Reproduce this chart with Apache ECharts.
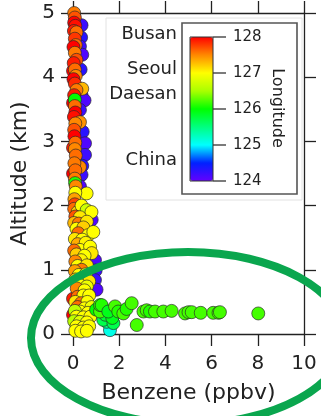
<!DOCTYPE html>
<html>
<head>
<meta charset="utf-8">
<script src="https://cdn.jsdelivr.net/npm/echarts@6/dist/echarts.min.js"></script>
<style>
  html, body { margin: 0; padding: 0; background: #fff; }
  #chart { width: 321px; height: 416px; }
</style>
</head>
<body>
<div id="chart"></div>
<script>
// Each point: [benzene (ppbv), altitude (km), longitude (deg E)]

// Air arriving from the west (low longitude)
const westernAir = [
  [0.37,4.81,124.2],[0.35,4.62,124.3],[0.30,4.48,124.2],[0.40,4.35,124.1],[0.33,4.12,124.3],
  [0.37,3.72,124.2],[0.50,3.64,124.1],[0.30,3.49,124.2],[0.42,3.15,124.3],[0.52,2.97,124.1],
  [0.52,2.79,124.2],[0.40,2.62,124.3],[0.37,2.48,124.2],[0.30,2.30,124.1],[0.81,1.78,124.1],
  [0.95,1.15,124.1],[0.98,0.99,124.2],[0.95,0.84,124.2],[1.02,0.69,124.1]
];

// Free troposphere column, 2-5 km
const upperColumn = [
  [0.00,4.10,128.0],[0.00,3.60,128.0],[0.00,2.90,127.9],[0.00,2.50,128.0],
  [0.05,5.00,127.55],[0.08,4.93,127.7],[0.05,4.85,128.0],[0.10,4.80,127.95],
  [0.04,4.72,127.9],[0.15,4.70,127.6],[0.08,4.60,127.8],[0.12,4.50,127.6],
  [0.02,4.47,128.0],[0.08,4.38,127.55],[0.15,4.27,127.7],[0.03,4.22,127.9],
  [0.08,4.12,127.6],[0.12,4.02,127.5],[0.02,3.97,128.0],[0.08,3.90,127.85],
  [0.40,3.82,127.3],[0.15,3.80,127.55],[0.05,3.72,127.9],[0.08,3.65,126.0],
  [0.08,3.55,127.6],[0.10,3.45,128.0],[0.04,3.38,127.95],[0.30,3.30,127.45],
  [0.10,3.28,127.5],[0.05,3.18,127.7],[0.06,3.08,128.0],[0.10,2.98,127.6],
  [0.08,2.88,127.5],[0.12,2.78,127.6],[0.30,2.60,127.5],[0.06,2.66,127.55],
  [0.10,2.55,127.6],[0.08,2.42,127.55],[0.09,2.35,126.1],[0.12,2.30,127.5],
  [0.59,2.19,127.0],[0.10,2.20,127.0],[0.06,2.10,127.4],[0.08,2.02,127.75]
];

// Boundary layer column, 0-2 km
const lowerColumn = [
  [0.00,0.30,128.0],[0.00,0.55,127.9],
  [0.05,1.95,127.6],[0.20,1.90,127.2],[0.37,2.00,127.0],[0.59,1.93,126.7],[0.80,1.90,127.0],
  [0.10,1.83,127.7],[0.30,1.82,127.1],
  [0.05,1.73,127.3],[0.25,1.72,127.55],[0.60,1.75,127.1],
  [0.15,1.64,127.0],[0.45,1.66,127.2],
  [0.23,1.57,127.6],[0.66,1.54,127.0],[0.88,1.59,127.0],
  [0.08,1.48,127.1],[0.40,1.47,127.0],
  [0.20,1.40,127.35],[0.55,1.42,127.05],
  [0.30,1.31,127.0],[0.74,1.36,127.0],[0.05,1.30,127.6],
  [0.15,1.24,127.2],[0.81,1.26,127.1],[0.50,1.22,127.0],
  [0.35,1.15,127.05],[0.10,1.13,127.5],
  [0.20,1.06,127.0],[0.60,1.07,127.1],
  [0.37,1.00,127.55],[0.08,0.98,127.4],
  [0.25,0.92,127.0],[0.55,0.93,127.0],
  [0.44,0.84,127.0],[0.10,0.85,127.3],[0.70,0.82,127.1],
  [0.30,0.76,127.0],[0.60,0.74,126.9],
  [0.23,0.66,127.0],[0.16,0.71,127.5],[0.50,0.68,127.0],
  [0.20,0.58,127.6],[0.45,0.60,127.0],[0.70,0.60,127.0],
  [0.10,0.50,127.1],[0.35,0.48,127.55],[0.62,0.50,127.0],
  [0.20,0.42,127.6],[0.50,0.40,127.0],[0.80,0.42,126.9],
  [0.30,0.35,127.0],[0.65,0.33,127.0],[0.08,0.36,126.6],
  [0.15,0.27,127.0],[0.45,0.26,127.0],[0.75,0.27,127.0],
  [0.05,0.20,126.6],[0.30,0.19,126.8],[0.60,0.18,127.0],
  [0.15,0.12,127.0],[0.45,0.10,127.0],[0.70,0.12,127.0],
  [0.10,0.05,127.0],[0.35,0.04,127.0],[0.60,0.05,127.0]
];

// Near-surface benzene plume
const plume = [
  [1.60,0.06,125.1],[1.46,0.19,125.5],[1.31,0.22,125.7],[1.75,0.17,125.7],
  [1.40,0.30,125.8],[1.70,0.25,125.9],
  [1.00,0.38,126.0],[1.17,0.35,126.2],[1.17,0.45,126.1],[1.24,0.45,126.1],
  [1.53,0.35,125.9],[1.82,0.43,126.2],[1.96,0.35,126.1],[2.18,0.32,126.2],
  [2.32,0.39,126.1],[2.54,0.48,126.2],[2.76,0.14,126.2],[3.05,0.35,126.2],
  [3.19,0.37,126.2],[3.33,0.35,126.1],[3.55,0.35,126.2],[3.91,0.35,126.2],
  [4.27,0.36,126.2],[4.85,0.32,126.2],[5.00,0.34,126.2],[5.14,0.34,126.2],
  [5.53,0.33,126.2],[6.07,0.33,126.2],[6.30,0.33,126.2],[6.36,0.34,126.2],
  [8.02,0.32,126.2]
];

// Colour scale and its annotations
const colorTicks = [124, 125, 126, 127, 128];
const rainbow = ['#6400ff','#0020ff','#00ffff','#00ff80','#00ff00','#aaff00','#ffff00','#ff8800','#ff0000'];
const cities = ['Busan', 'Seoul', 'Daesan', 'China'];
const cityLongitudes = [128.07, 127.1, 126.4, 124.57];

const FONT = 'DejaVu Sans';
const INK = '#222';
const LON_MIN = 124, LON_MAX = 128;
const bar = { x: 190, y: 37, w: 23, h: 144 };
const lonToY = v => bar.y + (LON_MAX - v) / (LON_MAX - LON_MIN) * bar.h;

const axisLine = { show: true, onZero: false, lineStyle: { color: INK, width: 1.3 } };
const axisTick = { show: true, inside: false, length: 12, lineStyle: { color: INK, width: 1.3 } };
const tickFont = { fontSize: 20, fontFamily: FONT, color: INK };
const nameFont = { fontSize: 22, fontFamily: FONT, color: INK };

function scatter(data) {
  return {
    type: 'scatter', data, symbolSize: 13, clip: false, silent: true,
    itemStyle: { borderColor: 'rgba(40,40,40,0.85)', borderWidth: 0.8, opacity: 1 }
  };
}

const graphics = [
  { type: 'rect', z: 1, shape: { x: 106, y: 18, width: 196, height: 182 },
    style: { fill: '#fff', stroke: '#e2e2e2', lineWidth: 1 } },
  { type: 'rect', z: 5, shape: { x: 182, y: 23, width: 115, height: 171 },
    style: { fill: 'none', stroke: '#555', lineWidth: 1.6 } },
  { type: 'rect', z: 6, shape: { x: bar.x, y: bar.y, width: bar.w, height: bar.h },
    style: { fill: 'none', stroke: '#333', lineWidth: 1 } },
  { type: 'text', z: 6, x: 277, y: 108, rotation: -Math.PI / 2,
    style: { text: 'Longitude', align: 'center', verticalAlign: 'middle',
             fontSize: 16, fontFamily: FONT, fill: INK } }
];
colorTicks.forEach(v => {
  const y = lonToY(v);
  graphics.push({ type: 'line', z: 6, shape: { x1: bar.x + bar.w, y1: y, x2: bar.x + bar.w + 13, y2: y },
    style: { stroke: '#333', lineWidth: 1.3 } });
  graphics.push({ type: 'text', z: 6, x: 233, y,
    style: { text: String(v), align: 'left', verticalAlign: 'middle', fontSize: 15, fontFamily: FONT, fill: INK } });
});
cities.forEach((c, i) => {
  graphics.push({ type: 'text', z: 6, x: 177, y: lonToY(cityLongitudes[i]),
    style: { text: c, align: 'right', verticalAlign: 'middle', fontSize: 18, fontFamily: FONT, fill: INK } });
});
// highlight ring around the low-altitude plume
graphics.push({ type: 'ellipse', z: 100, x: 188, y: 338,
  shape: { cx: 0, cy: 0, rx: 157, ry: 86 },
  style: { fill: 'none', stroke: '#0aa64e', lineWidth: 8 } });

const chart = echarts.init(document.getElementById('chart'), null, { renderer: 'canvas' });
chart.setOption({
  animation: false,
  backgroundColor: '#fff',
  grid: { left: 73, right: 17, top: 13, bottom: 82 },
  xAxis: [
    { type: 'value', position: 'bottom', min: 0, max: 10, interval: 2,
      axisLine, axisTick, splitLine: { show: false },
      axisLabel: Object.assign({ margin: 20 }, tickFont),
      name: 'Benzene (ppbv)', nameLocation: 'middle', nameGap: 48, nameTextStyle: nameFont },
    { type: 'value', position: 'top', min: 0, max: 10, interval: 2,
      axisLine, axisTick, splitLine: { show: false }, axisLabel: { show: false } }
  ],
  yAxis: [
    { type: 'value', position: 'left', min: 0, max: 5, interval: 1,
      axisLine, axisTick, splitLine: { show: false },
      axisLabel: Object.assign({ margin: 18 }, tickFont),
      name: 'Altitude (km)', nameLocation: 'middle', nameGap: 41, nameTextStyle: nameFont },
    { type: 'value', position: 'right', min: 0, max: 5, interval: 1,
      axisLine, axisTick, splitLine: { show: false }, axisLabel: { show: false } }
  ],
  visualMap: {
    type: 'continuous', min: LON_MIN, max: LON_MAX, dimension: 2,
    seriesIndex: [0, 1, 2, 3], calculable: false, hoverLink: false,
    left: bar.x, top: bar.y, itemWidth: bar.w, itemHeight: bar.h, padding: 0,
    text: null, showLabel: false, z: 4,
    inRange: { color: rainbow }
  },
  series: [scatter(westernAir), scatter(upperColumn), scatter(lowerColumn), scatter(plume)],
  graphic: { elements: graphics }
});
</script>
</body>
</html>
